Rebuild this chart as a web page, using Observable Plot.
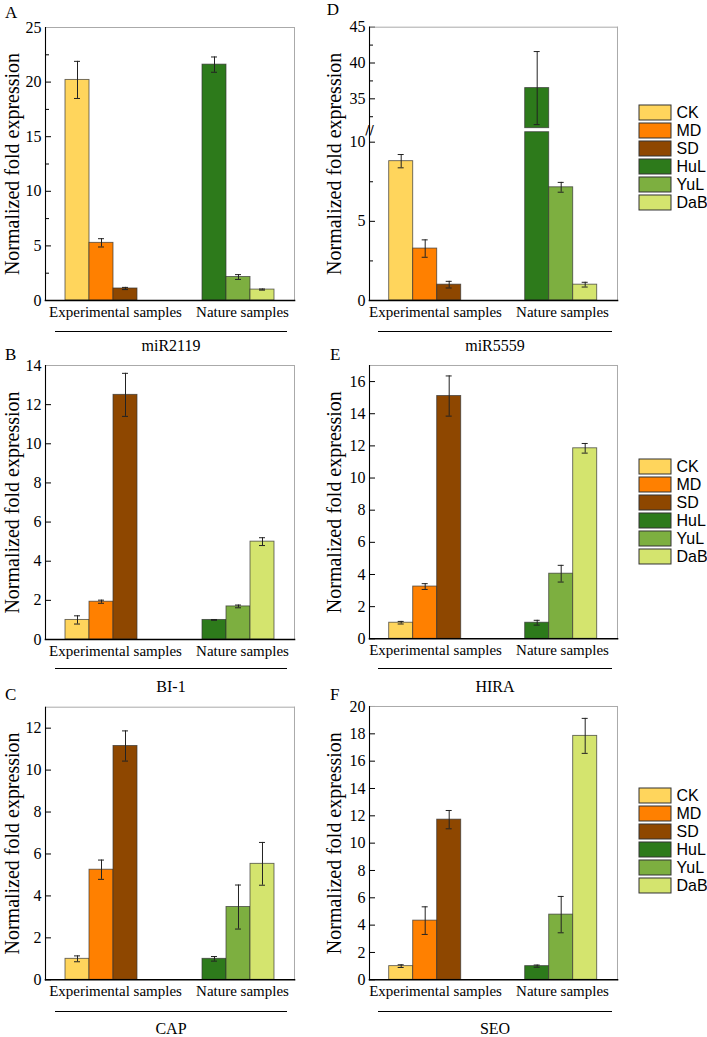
<!DOCTYPE html>
<html><head><meta charset="utf-8">
<script src="https://cdn.jsdelivr.net/npm/d3@7"></script>
<script src="https://cdn.jsdelivr.net/npm/@observablehq/plot@0.6"></script>
<style>
body{margin:0;background:#fff;}
#page{position:relative;width:707px;height:1037px;overflow:hidden;font-family:"Liberation Serif","Times New Roman",serif;color:#000;background:#fff}
.abs{position:absolute}
.abs svg{overflow:visible;max-width:none !important;display:block}
.letter{position:absolute;font-size:17px;line-height:1}
.uline{position:absolute;height:0;border-top:1.6px solid #000}
.gene{position:absolute;font-size:16px;line-height:1;transform:translate(-50%,-50%);white-space:nowrap}
</style></head><body><div id="page"></div>
<script>
// ---------- data ----------
const samples = ["CK","MD","SD","HuL","YuL","DaB"];
const groups = ["Experimental samples","Nature samples"];
const sampleGroup = ["Experimental samples","Experimental samples","Experimental samples","Nature samples","Nature samples","Nature samples"];
const colors = ["#FFD55C","#FF8000","#8E4700","#2D7A1B","#7DAF40","#D4E46E"];
const yLabel = "Normalized fold expression";

const miR2119Values = [20.2, 5.28, 1.1, 21.6, 2.15, 1.0];
const miR2119Errors = [1.7, 0.38, 0.1, 0.7, 0.22, 0.05];
const bi1Values = [1.0, 1.93, 12.5, 1.0, 1.69, 5.0];
const bi1Errors = [0.21, 0.08, 1.1, 0.02, 0.07, 0.2];
const capValues = [1.0, 5.25, 11.15, 1.0, 3.47, 5.53];
const capErrors = [0.14, 0.46, 0.72, 0.11, 1.05, 1.02];
const miR5559Values = [8.8, 3.28, 1.0, 36.5, 7.15, 1.0];
const miR5559Errors = [0.42, 0.55, 0.21, 5.1, 0.31, 0.15];
const hiraValues = [1.0, 3.25, 15.1, 1.0, 4.05, 11.85];
const hiraErrors = [0.08, 0.18, 1.25, 0.15, 0.52, 0.3];
const seoValues = [1.0, 4.33, 11.72, 1.0, 4.77, 17.85];
const seoErrors = [0.1, 1.01, 0.67, 0.08, 1.33, 1.28];

const ticksA = [0,5,10,15,20,25];
const minorA = [2.5,7.5,12.5,17.5,22.5];
const ticksB = [0,2,4,6,8,10,12,14];
const ticksC = [0,2,4,6,8,10,12];
const ticksDUpper = [35,40,45];
const minorDUpper = [32.5,37.5,42.5];
const ticksDLower = [0,5,10];
const minorDLower = [2.5,7.5];
const ticksE = [0,2,4,6,8,10,12,14,16];
const ticksF = [0,2,4,6,8,10,12,14,16,18,20];

// ---------- helpers ----------
const page = document.getElementById("page");
function place(node, left, top, width) {
  const d = document.createElement("div");
  d.className = "abs";
  d.style.left = left + "px";
  d.style.top = top + "px";
  d.style.width = width + "px";
  d.appendChild(node);
  page.appendChild(d);
}
function rowsFor(values, errors) {
  return samples.map((s, i) => ({
    sample: s,
    group: sampleGroup[i],
    rank: sampleGroup.slice(0, i).filter(g => g === sampleGroup[i]).length,
    value: values[i],
    err: errors[i]
  }));
}
const serif = "'Liberation Serif','Times New Roman',serif";

function panel(cfg) {
  const rows = rowsFor(cfg.values, cfg.errors);
  const [lo, hi] = cfg.yDomain;
  const bars = rows.filter(d => d.value > lo);
  const errs = rows.filter(d => d.value - d.err >= lo - 1e-9 && d.value + d.err <= hi + 1e-9);
  const sides = cfg.sides || ["top","right","left","bottom"];
  const marks = [
    // keeps every facet populated, even when a segment of a broken axis holds no bar of that group
    Plot.dot(rows, {fx: "group", x: "rank", y: () => lo, r: 0, stroke: "none"}),
    Plot.barY(bars, {fx: "group", x: "rank", y: "value", fill: "sample", stroke: "#333", strokeOpacity: 0.75, strokeWidth: 0.9}),
    Plot.ruleX(errs, {fx: "group", x: "rank", y1: d => d.value - d.err, y2: d => d.value + d.err, stroke: "#222", strokeWidth: 1}),
    Plot.tickY(errs, {fx: "group", x: "rank", y: d => d.value + d.err, insetLeft: 9, insetRight: 9, stroke: "#222"}),
    Plot.tickY(errs, {fx: "group", x: "rank", y: d => d.value - d.err, insetLeft: 9, insetRight: 9, stroke: "#222"}),
    Plot.axisY({ticks: cfg.ticks, tickSize: -6, tickPadding: 10, label: null, fontSize: 16}),
  ];
  if (cfg.minor) marks.push(Plot.axisY({ticks: cfg.minor, tickSize: -4, tickFormat: () => "", label: null}));
  if (sides.includes("top")) marks.push(Plot.frame({facet: "super", anchor: "top", stroke: "#aaa"}));
  if (sides.includes("right")) marks.push(Plot.frame({facet: "super", anchor: "right", stroke: "#aaa", insetTop: cfg.extendTop || 0}));
  if (sides.includes("left")) marks.push(Plot.frame({facet: "super", anchor: "left", stroke: "#000", strokeWidth: 1.1, insetTop: cfg.extendTop || 0}));
  if (sides.includes("bottom")) {
    marks.push(Plot.frame({facet: "super", anchor: "bottom", stroke: "#000", strokeWidth: 1.6}));
    marks.push(Plot.axisFx({anchor: "bottom", ticks: [groups[0]], tickSize: 0, tickPadding: 6, dx: cfg.fxDx[0], label: null, fontSize: 15}));
    marks.push(Plot.axisFx({anchor: "bottom", ticks: [groups[1]], tickSize: 0, tickPadding: 6, dx: cfg.fxDx[1], label: null, fontSize: 15}));
  }
  if (cfg.showLabel !== false) {
    marks.push(Plot.text([yLabel], {facet: "super", frameAnchor: "left", text: d => d, rotate: -90,
      textAnchor: "middle", lineAnchor: "middle", dx: cfg.labelX - cfg.marginLeft, dy: cfg.labelDy || 0, fontSize: 20}));
  }
  if (cfg.breakMark) {
    marks.push(Plot.text(["//"], {facet: "super", frameAnchor: "top-left", text: d => d, fontSize: 13,
      textAnchor: "middle", lineAnchor: "middle", dy: -2, fontFamily: "'DejaVu Sans',sans-serif"}));
  }
  const chart = Plot.plot({
    width: cfg.width, height: cfg.height,
    marginLeft: cfg.marginLeft, marginRight: cfg.marginRight,
    marginTop: cfg.marginTop, marginBottom: cfg.marginBottom,
    fx: Object.assign({domain: groups, paddingInner: 0.18, paddingOuter: 0, label: null}, sides.includes("bottom") ? {} : {axis: null}),
    x: {domain: [0, 1, 2], paddingInner: 0, paddingOuter: 0.75, axis: null},
    y: {domain: cfg.yDomain, clamp: true, label: null},
    color: {domain: samples, range: colors},
    style: {fontFamily: serif, fontSize: "15px", color: "#000", background: "transparent", overflow: "visible"},
    marks
  });
  place(chart, cfg.left, cfg.top, cfg.width);
}

function legend(top) {
  const chart = Plot.plot({
    width: 75, height: 106.7, marginLeft: 0, marginRight: 43, marginTop: 0, marginBottom: 0,
    y: {domain: samples, paddingInner: 0.18, paddingOuter: 0, axis: null},
    color: {domain: samples, range: colors},
    style: {fontFamily: "'Liberation Sans',Arial,sans-serif", fontSize: "16px", color: "#000", background: "transparent", overflow: "visible"},
    marks: [
      Plot.cell(samples, {y: d => d, fill: d => d, stroke: "#333", strokeWidth: 1}),
      Plot.text(samples, {y: d => d, text: d => d, frameAnchor: "right", textAnchor: "start", dx: 5, fontSize: 16})
    ]
  });
  place(chart, 638.7, top, 75);
}

function annot(text, cls, left, top, width) {
  const d = document.createElement("div");
  d.className = cls;
  d.style.left = left + "px";
  d.style.top = top + "px";
  if (width) d.style.width = width + "px";
  if (text) d.textContent = text;
  page.appendChild(d);
}

// ---------- layout ----------
const L = {left: 0, width: 300, marginLeft: 45, marginRight: 5, labelX: 12, fxDx: [14, 4]};
const R = {left: 300, width: 320, marginLeft: 68.3, marginRight: 2.7, labelX: 33, fxDx: [10, 1]};

panel({...L, top: 0, height: 328, marginTop: 27, marginBottom: 28, yDomain: [0, 25], ticks: ticksA, minor: minorA, values: miR2119Values, errors: miR2119Errors});
panel({...L, top: 340, height: 327, marginTop: 25, marginBottom: 28, yDomain: [0, 14], ticks: ticksB, values: bi1Values, errors: bi1Errors});
panel({...L, top: 680, height: 327.3, marginTop: 26.7, marginBottom: 28, yDomain: [0, 13], ticks: ticksC, values: capValues, errors: capErrors});

panel({...R, top: 0, height: 129.7, marginTop: 26.7, marginBottom: 2, yDomain: [30.9, 45], ticks: ticksDUpper, minor: minorDUpper,
  values: miR5559Values, errors: miR5559Errors, sides: ["top","right","left"], showLabel: false});
panel({...R, top: 128, height: 200, marginTop: 3.7, marginBottom: 28, yDomain: [0, 10.63], ticks: ticksDLower, minor: minorDLower,
  values: miR5559Values, errors: miR5559Errors, sides: ["right","left","bottom"], extendTop: -4.5, labelDy: -52.5, breakMark: true});
panel({...R, top: 340, height: 326.3, marginTop: 25, marginBottom: 28, yDomain: [0, 17], ticks: ticksE, values: hiraValues, errors: hiraErrors});
panel({...R, top: 680, height: 327.3, marginTop: 26, marginBottom: 28, yDomain: [0, 20], ticks: ticksF, values: seoValues, errors: seoErrors});

legend(104.3);
legend(458.3);
legend(786.7);

const genes = ["miR2119","BI-1","CAP","miR5559","HIRA","SEO"];
const letters = ["A","B","C","D","E","F"];
const ulineY = [331, 668.3, 1011];
const geneY = [345.5, 686.7, 1028.5];
const letterPos = [[5,4],[5,345.5],[5,685.5],[326.7,1],[330,345.5],[330,685.5]];
for (let i = 0; i < 6; i++) {
  const col = i < 3 ? 0 : 1, row = i % 3;
  annot(null, "uline", col ? 378 : 55, ulineY[row], col ? 234 : 232);
  annot(genes[i], "gene", col ? 495 : 171, geneY[row]);
  annot(letters[i], "letter", letterPos[i][0], letterPos[i][1]);
}
</script></body></html>
